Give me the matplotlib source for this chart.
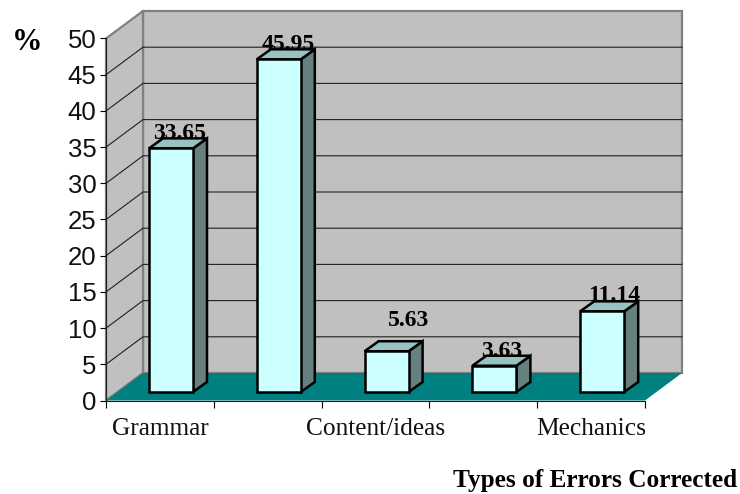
import matplotlib
matplotlib.use('Agg')
from matplotlib import pyplot as plt
from matplotlib.patches import Polygon

categories = ['Grammar', '', 'Content/ideas', '', 'Mechanics']
values = [33.65, 45.95, 5.63, 3.63, 11.14]
value_labels = ['33.65', '45.95', '5.63', '3.63', '11.14']
y_ticks = [0, 5, 10, 15, 20, 25, 30, 35, 40, 45, 50]

W, H = 740, 494
# front plane of the box, in pixels
left, right, bottom, top = 106, 645, 400.5, 38.5
px_x = (right - left) / len(categories)
px_y = (bottom - top) / 50

wall_dx, wall_dy = 37 / px_x, 27.5 / px_y
depth_dx, depth_dy = 14 / px_x, 10 / px_y
bar_off, bar_w = 43 / px_x, 44 / px_x
bar_base = 8.5 / px_y

wall_col = '#c0c0c0'
edge_col = '#808080'
floor_col = '#008080'
front_col = '#ccffff'
side_col = '#668080'
top_col = '#99c2c2'

# label nudges in points (x, y), from the middle of the bar top
nudges = [(1.2, -0.7), (1.5, -0.7), (11, 11), (0, -0.7), (3.6, 0.3)]

fig = plt.figure(figsize=(W / 100, H / 100), dpi=100)
ax = fig.add_axes([left / W, 1 - bottom / H, (right - left) / W, (bottom - top) / H])
ax.set_xlim(0, len(categories))
ax.set_ylim(0, 50)
ax.patch.set_visible(False)


def poly(pts, face, edge='none', lw=0, z=1, join='miter'):
    ax.add_patch(Polygon(pts, closed=True, facecolor=face, edgecolor=edge, linewidth=lw,
                         zorder=z, clip_on=False, joinstyle=join))


n = len(categories)
# back wall, side wall, floor
poly([(wall_dx, wall_dy), (n + wall_dx, wall_dy), (n + wall_dx, 50 + wall_dy), (wall_dx, 50 + wall_dy)],
     wall_col, edge_col, 1.6, 1)
poly([(0, 0), (wall_dx, wall_dy), (wall_dx, 50 + wall_dy), (0, 50)], wall_col, edge_col, 1.6, 1)
poly([(0, 0), (n, 0), (n + wall_dx, wall_dy), (wall_dx, wall_dy)], floor_col, z=3)

for t in y_ticks[1:]:
    if t < 50:
        ax.plot([0, wall_dx, n + wall_dx], [t, t + wall_dy, t + wall_dy], color='#202020',
                lw=0.8, zorder=2, clip_on=False, solid_joinstyle='miter')

for i, v in enumerate(values):
    x0 = i + bar_off
    x1 = x0 + bar_w
    y0 = bar_base
    y1 = bar_base + v
    ax.annotate(value_labels[i], xy=(x0 + bar_w / 2 + depth_dx / 2, y1 + depth_dy),
                xytext=nudges[i], textcoords='offset points', ha='center', va='baseline',
                fontsize=17, fontweight='bold', family='Liberation Serif', color='black',
                zorder=4, annotation_clip=False)
    poly([(x1, y0), (x1 + depth_dx, y0 + depth_dy), (x1 + depth_dx, y1 + depth_dy), (x1, y1)],
         side_col, 'black', 1.8, 5)
    poly([(x0, y1), (x1, y1), (x1 + depth_dx, y1 + depth_dy), (x0 + depth_dx, y1 + depth_dy)],
         top_col, 'black', 1.8, 5)
    poly([(x0, y0), (x1, y0), (x1, y1), (x0, y1)], front_col, 'black', 1.8, 6)

for s in ['top', 'right']:
    ax.spines[s].set_visible(False)
for s in ['left', 'bottom']:
    ax.spines[s].set_linewidth(0.8)
    ax.spines[s].set_color('#202020')
    ax.spines[s].set_zorder(7)

ax.set_yticks(y_ticks)
ax.set_yticklabels([str(t) for t in y_ticks], fontsize=18.5, family='Liberation Sans', color='#111111')
ax.tick_params(axis='y', length=4, width=0.8, pad=3)

ax.set_xticks(range(n + 1))
ax.set_xticklabels([])
ax.tick_params(axis='x', which='major', length=5, width=0.8)
ax.set_xticks([i + 0.5 for i in range(n)], minor=True)
ax.set_xticklabels(categories, minor=True, fontsize=18.3, family='Liberation Serif', color='#111111')
ax.tick_params(axis='x', which='minor', length=0, pad=12.5)

fig.text(27 / W, 1 - 50 / H, '%', fontsize=22, fontweight='bold', family='Liberation Serif',
         ha='center', va='baseline')
fig.text(737 / W, 1 - 486.5 / H, 'Types of Errors Corrected', fontsize=18.2, fontweight='bold',
         family='Liberation Serif', ha='right', va='baseline')

fig.savefig('out.png', dpi=100)
